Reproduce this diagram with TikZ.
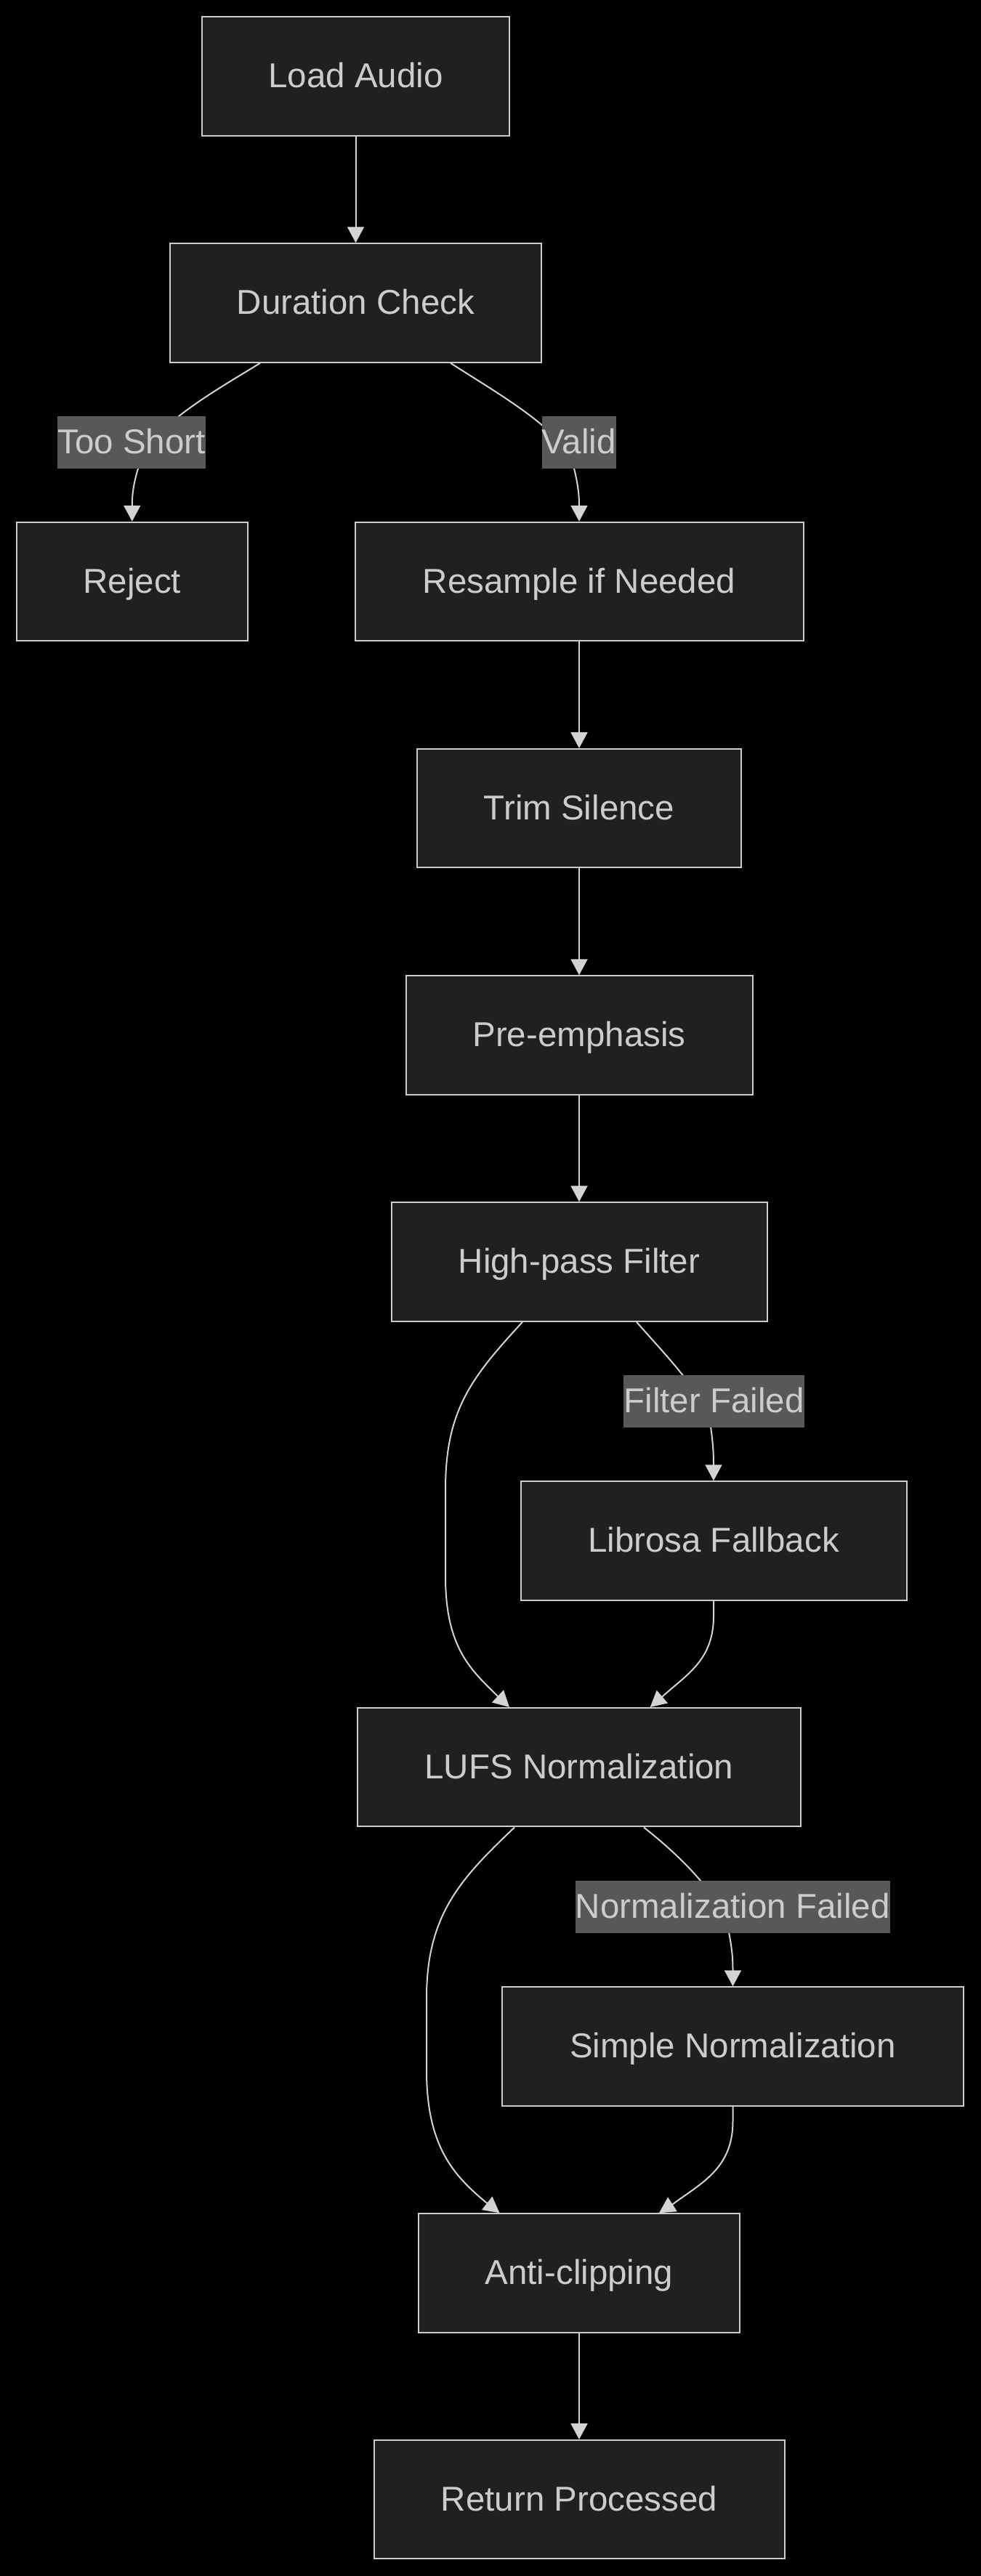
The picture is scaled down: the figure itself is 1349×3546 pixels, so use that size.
\documentclass[tikz,border=0pt]{standalone}
\usepackage{fontspec}
\setmainfont{Liberation Sans}
\usetikzlibrary{arrows.meta}
\definecolor{boxfill}{HTML}{1F2020}
\definecolor{boxline}{HTML}{CCCCCC}
\definecolor{txt}{HTML}{CCCCCC}
\definecolor{edgecol}{HTML}{D3D3D3}
\definecolor{lblfill}{HTML}{585858}
\pgfdeclarelayer{bglayer}
\pgfdeclarelayer{edgelayer}
\pgfsetlayers{bglayer,edgelayer,main}
\tikzset{
  procbox/.style={draw=boxline, fill=boxfill, line width=2pt, text=txt,
    inner xsep=0pt, inner ysep=0pt, minimum height=163.5pt,
    text height=51.5pt, text depth=20.5pt,
    font=\fontsize{47.5pt}{57pt}\selectfont},
  edgelbl/.style={fill=lblfill, text=txt, inner sep=0pt, minimum height=72pt,
    text height=51.5pt, text depth=20.5pt,
    font=\fontsize{47.5pt}{57pt}\selectfont},
  conn/.style={draw=edgecol, line width=2pt,
    -{Triangle[length=22pt,width=23pt]}, fill=none},
}
\begin{document}
\begin{tikzpicture}[x=1pt,y=-1pt]
\useasboundingbox (0,0) rectangle (1349,3546);
\begin{pgfonlayer}{bglayer}
\fill[black] (-20,-20) rectangle (1369,3566);
\end{pgfonlayer}

\node[procbox, minimum width=423pt] (la) at (489.5,105) {Load Audio};
\node[procbox, minimum width=511pt] (dc) at (489.5,417) {Duration Check};
\node[procbox, minimum width=318pt] (rej) at (181.8,800.5) {Reject};
\node[procbox, minimum width=617pt] (rs) at (797,800.5) {Resample if Needed};
\node[procbox, minimum width=446pt] (trim) at (797,1112.7) {Trim Silence};
\node[procbox, minimum width=477pt] (pre) at (797,1425) {Pre-emphasis};
\node[procbox, minimum width=517pt] (hpf) at (797,1737) {High-pass Filter};
\node[procbox, minimum width=531pt] (lib) at (982,2121) {Librosa Fallback};
\node[procbox, minimum width=610pt] (lufs) at (797,2432.7) {LUFS Normalization};
\node[procbox, minimum width=635pt] (sn) at (1008.5,2817) {Simple Normalization};
\node[procbox, minimum width=442pt] (ac) at (797,3129) {Anti-clipping};
\node[procbox, minimum width=565pt] (rp) at (797,3440.7) {Return Processed};

\node[edgelbl] (lts) at (181,609) {Too Short};
\node[edgelbl] (lva) at (796.7,609) {Valid};
\node[edgelbl] (lff) at (982.5,1929) {Filter Failed};
\node[edgelbl] (lnf) at (1008.3,2624.5) {Normalization Failed};

\begin{pgfonlayer}{edgelayer}
\draw[conn] (la.south) -- (dc.north);
\draw[conn] ([xshift=-131.5pt]dc.south) .. controls (300,536) and (200,590) .. (190,645)
  .. controls (184,665) and (181.8,680) .. (181.8,695) -- (rej.north);
\draw[conn] ([xshift=130.5pt]dc.south) .. controls (690,545) and (780,595) .. (790,645)
  .. controls (795,665) and (797,680) .. (797,695) -- (rs.north);
\draw[conn] (rs.south) -- (trim.north);
\draw[conn] (trim.south) -- (pre.north);
\draw[conn] (pre.south) -- (hpf.north);
\draw[conn] ([xshift=-78pt]hpf.south) .. controls (650,1895) and (613,1940) .. (613,2050)
  -- (613,2170) .. controls (613,2270) and (650,2300) .. (684,2334) -- ([xshift=-96pt]lufs.north);
\draw[conn] ([xshift=79pt]hpf.south) .. controls (920,1870) and (970,1920) .. (978,1964)
  .. controls (981,1985) and (982,2000) .. (982,2016) -- (lib.north);
\draw[conn] (lib.south) -- (982,2225) .. controls (982,2285) and (945,2305) .. (912,2335) -- ([xshift=97.7pt]lufs.north);
\draw[conn] ([xshift=-89pt]lufs.south) .. controls (635,2585) and (587,2635) .. (587,2750)
  -- (587,2850) .. controls (587,2955) and (625,2995) .. (668,3031) -- ([xshift=-109.5pt]ac.north);
\draw[conn] ([xshift=89pt]lufs.south) .. controls (930,2550) and (995,2610) .. (1003,2660)
  .. controls (1007,2680) and (1008.5,2695) .. (1008.5,2711) -- (sn.north);
\draw[conn] (sn.south) -- (1008.5,2920) .. controls (1008.5,2985) and (965,3005) .. (926,3034) -- ([xshift=110pt]ac.north);
\draw[conn] (ac.south) -- (rp.north);
\end{pgfonlayer}
\end{tikzpicture}
\end{document}
